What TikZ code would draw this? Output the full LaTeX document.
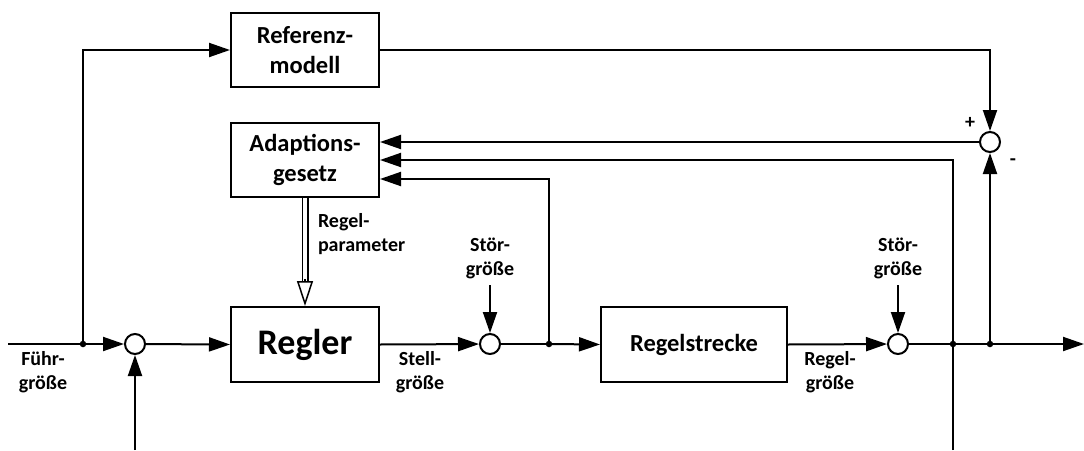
\documentclass[tikz,border=0pt]{standalone}
\usepackage{fontspec}
\setmainfont{Carlito}
\usetikzlibrary{arrows.meta,calc}
\begin{document}
\begin{tikzpicture}[x=1pt,y=-1pt, line width=2pt, >={Triangle[length=21pt,width=14pt]},
  block/.style={draw, line width=2pt, minimum width=148pt, minimum height=74pt, align=center, inner sep=0pt, font=\fontsize{24.5}{29.5}\selectfont\bfseries},
  sumc/.style={draw, circle, line width=2pt, minimum size=20pt, inner sep=0pt, fill=white},
  jdot/.style={circle, fill=black, draw=none, inner sep=0pt, minimum size=6.5pt},
  lbl/.style={align=center, inner sep=0pt, font=\fontsize{20}{24}\selectfont\bfseries}]
\useasboundingbox (0,0) rectangle (1084,450);

% blocks
\node[block] (ref) at (305,50) {Referenz-\\modell};
\node[block] (adapt) at (305,160) {Adaptions-\\gesetz};
\node[block, minimum height=75pt, font=\fontsize{36}{42}\selectfont\bfseries] (regler) at (305,344.5) {Regler};
\node[block, minimum width=186pt, minimum height=75pt] (strecke) at (694,344.5) {Regelstrecke};

% summation points
\node[sumc] (s1) at (135,344) {};
\node[sumc] (s2) at (490,344) {};
\node[sumc] (s3) at (898,344) {};
\node[sumc] (s4) at (990,142) {};

% junctions
\node[jdot] (j1) at (83,344) {};
\node[jdot] (j2) at (549,344) {};
\node[jdot] (j3) at (953,344) {};
\node[jdot] (j4) at (990,344) {};

% free ends
\coordinate (in) at (8,344);
\coordinate (out) at (1084,344);
\coordinate (fb1) at (135,450);
\coordinate (fb2) at (953,450);
\coordinate (d1) at (490,285);
\coordinate (d2) at (898,285);

% main path
\draw (in) -- (j1.center);
\draw[->] (j1.center) -- (s1);
\draw[->] (j1.center) |- (ref.west);
\draw[->] (s1) -- (regler.west);
\draw[->] (fb1) -- (s1);
\draw[->] (regler.east) -- (s2);
\draw[->] (d1) -- (s2);
\draw (s2) -- (j2.center);
\draw[->] (j2.center) -- (strecke.west);
\draw[->] (j2.center) |- ($(adapt.east)+(0,19)$);
\draw[->] (strecke.east) -- (s3);
\draw[->] (d2) -- (s3);
\draw (s3) -- (j3.center);
\draw (j3.center) -- (j4.center);
\draw[->] (j4.center) -- (out);
\draw[->] (fb2) |- (adapt.east);
\draw[->] (j4.center) -- (s4);
\draw[->] (ref.east) -| (s4);
\draw[->] (s4) -- (s4 -| adapt.east);

% double arrow (Regelparameter)
\draw[line width=1.5pt, double, double distance=4pt, shorten >=25pt] (adapt.south) -- (regler.north);
\draw[line width=1.5pt, -{Triangle[open,length=25pt,width=16pt]}] ($(regler.north)+(0,-27)$) -- (regler.north);

% labels
\node[lbl] (lfuehr) at (43,372) {Führ-\\größe};
\node[lbl] (lstell) at (420,372) {Stell-\\größe};
\node[lbl] (lregel) at (830,372) {Regel-\\größe};
\node[lbl] (lstoer1) at (490,258) {Stör-\\größe};
\node[lbl] (lstoer2) at (898,258) {Stör-\\größe};
\node[lbl, anchor=west, align=left] (lparam) at (317,234) {Regel-\\parameter};
\node[lbl] (lplus) at (970,123) {+};
\node[lbl] (lminus) at (1013,162) {-};
\end{tikzpicture}
\end{document}
